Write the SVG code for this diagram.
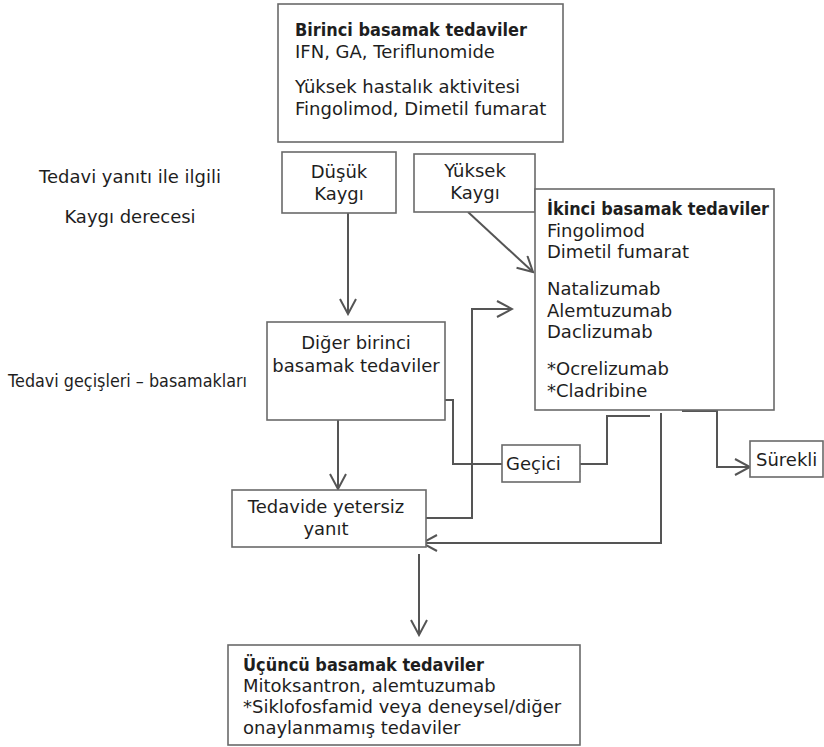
<svg xmlns="http://www.w3.org/2000/svg" width="824" height="747" viewBox="0 0 824 747">
<defs>
<marker id="arr" viewBox="-1 -1 18 18" refX="15" refY="8" markerWidth="18" markerHeight="18" markerUnits="userSpaceOnUse" orient="auto">
<path d="M0,0 L15,8 L0,16" fill="none" stroke="#555" stroke-width="2"/>
</marker>
<style>
text{font-family:"DejaVu Sans","Open Sans",sans-serif;font-size:18px;fill:#1e1e1e}
.b{font-weight:bold}
.c{text-anchor:middle}
rect{fill:#fff;stroke:#6a6a6a;stroke-width:1.6}
.ln{fill:none;stroke:#555;stroke-width:2;marker-end:url(#arr)}
</style>
</defs>
<rect x="0" y="0" width="824" height="747" style="fill:#fff;stroke:none"/>
<g id="labels">
<text class="c" x="130" y="183">Tedavi yanıtı ile ilgili</text>
<text class="c" x="130" y="223">Kaygı derecesi</text>
<text x="8" y="387" style="font-size:17px" textLength="239" lengthAdjust="spacingAndGlyphs">Tedavi geçişleri – basamakları</text>
</g>
<g id="connectors">
<path class="ln" d="M348,213 V314"/>
<path class="ln" d="M468,212 L533,272"/>
<path class="ln" d="M338,406 V489"/>
<path class="ln" d="M418,518 H472 V309 H512"/>
<path class="ln" d="M650,416 H607 V464 H565"/>
<path class="ln" d="M502,464 H453 V400 H407"/>
<path class="ln" d="M661,413 V543 H422"/>
<path class="ln" d="M682,411 H717 V467 H750"/>
<path class="ln" d="M419,554 V635"/>
</g>
<g id="n-birinci">
<rect x="278" y="4" width="285" height="138"/>
<text class="b" x="295" y="36" textLength="232" lengthAdjust="spacingAndGlyphs">Birinci basamak tedaviler</text>
<text x="295" y="58">IFN, GA, Teriflunomide</text>
<text x="295" y="93">Yüksek hastalık aktivitesi</text>
<text x="295" y="115">Fingolimod, Dimetil fumarat</text>
</g>
<g id="n-dusuk">
<rect x="282" y="152" width="114" height="61"/>
<text class="c" x="339" y="178">Düşük</text>
<text class="c" x="339" y="200">Kaygı</text>
</g>
<g id="n-yuksek">
<rect x="414" y="154" width="121" height="58"/>
<text class="c" x="475" y="177">Yüksek</text>
<text class="c" x="475" y="199">Kaygı</text>
</g>
<g id="n-ikinci">
<rect x="535" y="189" width="239" height="221"/>
<text class="b" x="547" y="215" textLength="222" lengthAdjust="spacingAndGlyphs">İkinci basamak tedaviler</text>
<text x="547" y="237">Fingolimod</text>
<text x="547" y="258">Dimetil fumarat</text>
<text x="547" y="295">Natalizumab</text>
<text x="547" y="317">Alemtuzumab</text>
<text x="547" y="338">Daclizumab</text>
<text x="547" y="375">*Ocrelizumab</text>
<text x="547" y="397">*Cladribine</text>
</g>
<g id="n-diger">
<rect x="267" y="322" width="178" height="98"/>
<text class="c" x="356" y="349">Diğer birinci</text>
<text class="c" x="356" y="372">basamak tedaviler</text>
</g>
<g id="n-gecici">
<rect x="502" y="445" width="78" height="37"/>
<text x="506" y="470">Geçici</text>
</g>
<g id="n-surekli">
<rect x="750" y="441" width="73" height="36"/>
<text x="756" y="466">Sürekli</text>
</g>
<g id="n-tedavide">
<rect x="232" y="490" width="194" height="57"/>
<text class="c" x="326" y="513">Tedavide yetersiz</text>
<text class="c" x="326" y="535">yanıt</text>
</g>
<g id="n-ucuncu">
<rect x="228" y="645" width="352" height="100"/>
<text class="b" x="243" y="671" textLength="241" lengthAdjust="spacingAndGlyphs">Üçüncü basamak tedaviler</text>
<text x="243" y="692">Mitoksantron, alemtuzumab</text>
<text x="243" y="713">*Siklofosfamid veya deneysel/diğer</text>
<text x="243" y="734">onaylanmamış tedaviler</text>
</g>
</svg>
